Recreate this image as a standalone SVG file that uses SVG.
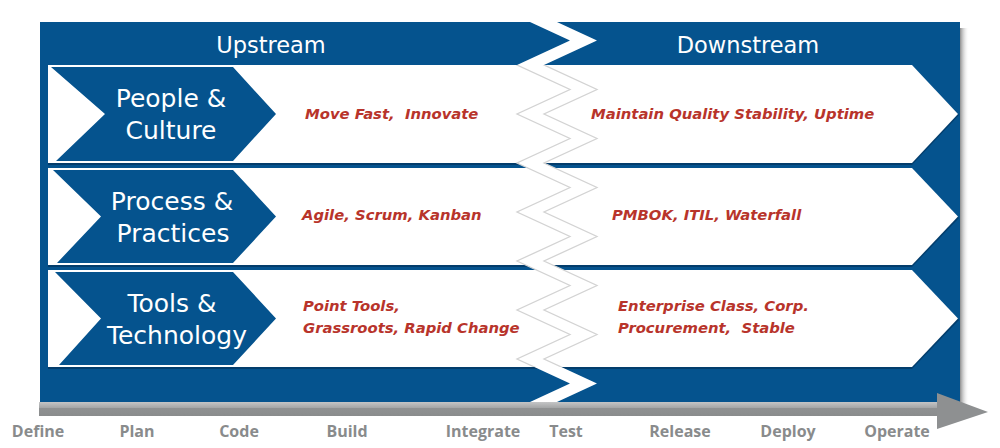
<svg xmlns="http://www.w3.org/2000/svg" width="1000" height="448" viewBox="0 0 1000 448">
  <defs>
    <style>
      .hdr { font-family: "DejaVu Sans", sans-serif; font-size: 22.5px; fill: #ffffff; text-anchor: middle; }
      .cat { font-family: "DejaVu Sans", sans-serif; font-size: 25px; fill: #ffffff; text-anchor: middle; }
      .note { font-family: "DejaVu Sans", sans-serif; font-size: 14.8px; font-weight: bold; font-style: italic; fill: #b8342b; white-space: pre; }
      .phase { font-family: "Open Sans", sans-serif; font-size: 16px; font-weight: 700; fill: #898b8c; text-anchor: middle; }
      .row { fill: #ffffff; }
      .rowshadow { fill: #03355e; opacity: 0.7; }
      .chev { fill: #05538e; }
      .zzline { fill: none; stroke: #d3d3d3; stroke-width: 1.3; stroke-linejoin: miter; }
    </style>
    <linearGradient id="rshadow" x1="0" y1="0" x2="1" y2="0">
      <stop offset="0" stop-color="#8e8e8e"/>
      <stop offset="1" stop-color="#ffffff" stop-opacity="0"/>
    </linearGradient>
    <linearGradient id="bar" x1="0" y1="0" x2="0" y2="1">
      <stop offset="0" stop-color="#c4c5c6"/>
      <stop offset="0.4" stop-color="#a5a7a8"/>
      <stop offset="0.45" stop-color="#8f9192"/>
      <stop offset="1" stop-color="#8a8c8d"/>
    </linearGradient>
    <clipPath id="rowsclip">
      <rect x="0" y="65" width="1000" height="302"/>
    </clipPath>
  </defs>

  <!-- background panel -->
  <g id="panel">
    <rect x="960" y="28" width="9" height="376" fill="url(#rshadow)"/>
    <rect x="40" y="22" width="920" height="380" fill="#05538e"/>
  </g>

  <!-- rows -->
  <g id="row-people">
    <polygon class="rowshadow" points="48,66 912,66 959,115 912,165 48,165"/>
    <polygon class="row" points="48,65 912,65 958,114 912,163 48,163"/>
    <polygon class="chev" points="51,67 233,67 276,114 233,161 56,161 105,114"/>
    <text class="cat" x="171" y="107">People &amp;</text>
    <text class="cat" x="171" y="139">Culture</text>
    <text class="note" x="305" y="119" xml:space="preserve">Move Fast,  Innovate</text>
    <text class="note" x="591" y="119">Maintain Quality Stability, Uptime</text>
  </g>

  <g id="row-process">
    <polygon class="rowshadow" points="48,169 912,169 959,218 912,267 48,267"/>
    <polygon class="row" points="48,168 912,168 958,216.5 912,265 48,265"/>
    <polygon class="chev" points="53,170 233,170 276,216.5 233,263 57,263 101,216.5"/>
    <text class="cat" x="172" y="209.5">Process &amp;</text>
    <text class="cat" x="173" y="241.5">Practices</text>
    <text class="note" x="302" y="220">Agile, Scrum, Kanban</text>
    <text class="note" x="612" y="220">PMBOK, ITIL, Waterfall</text>
  </g>

  <g id="row-tools">
    <polygon class="rowshadow" points="48,271 912,271 959,320 912,369 48,369"/>
    <polygon class="row" points="48,270 912,270 958,318.5 912,367 48,367"/>
    <polygon class="chev" points="55,272 233,272 276,318.5 233,365 59,365 101,318.5"/>
    <text class="cat" x="172" y="312">Tools &amp;</text>
    <text class="cat" x="177" y="344">Technology</text>
    <text class="note" x="303" y="311">Point Tools,</text>
    <text class="note" x="303" y="333">Grassroots, Rapid Change</text>
    <text class="note" x="618" y="311">Enterprise Class, Corp.</text>
    <text class="note" x="618" y="333" xml:space="preserve">Procurement,  Stable</text>
  </g>

  <!-- zigzag break -->
  <g id="break">
    <polygon fill="#ffffff" points="517,16 570,40.5 517,65 570,89.5 517,114 570,138.5 517,163 570,187.5 517,212 570,236.5 517,261 570,285.5 517,310 570,334.5 517,359 570,383.5 517,408 544,408 597,383.5 544,359 597,334.5 544,310 597,285.5 544,261 597,236.5 544,212 597,187.5 544,163 597,138.5 544,114 597,89.5 544,65 597,40.5 544,16"/>
    <g clip-path="url(#rowsclip)">
      <polyline class="zzline" points="570,40.5 517,65 570,89.5 517,114 570,138.5 517,163 570,187.5 517,212 570,236.5 517,261 570,285.5 517,310 570,334.5 517,359 570,383.5"/>
      <polyline class="zzline" points="597,40.5 544,65 597,89.5 544,114 597,138.5 544,163 597,187.5 544,212 597,236.5 544,261 597,285.5 544,310 597,334.5 544,359 597,383.5"/>
    </g>
  </g>

  <!-- headers -->
  <g id="headers">
    <text class="hdr" x="271" y="53">Upstream</text>
    <text class="hdr" x="748" y="53">Downstream</text>
  </g>

  <!-- lifecycle axis -->
  <g id="connectors">
    <rect x="39" y="402" width="899" height="14" fill="url(#bar)"/>
    <polygon points="937,393 988,412 937,429" fill="#8e9091"/>
  </g>
  <g id="phases">
    <text class="phase" x="38" y="437">Define</text>
    <text class="phase" x="137" y="437">Plan</text>
    <text class="phase" x="239" y="437">Code</text>
    <text class="phase" x="347" y="437">Build</text>
    <text class="phase" x="483" y="437">Integrate</text>
    <text class="phase" x="566" y="437">Test</text>
    <text class="phase" x="680" y="437">Release</text>
    <text class="phase" x="788" y="437">Deploy</text>
    <text class="phase" x="897" y="437">Operate</text>
  </g>
</svg>
